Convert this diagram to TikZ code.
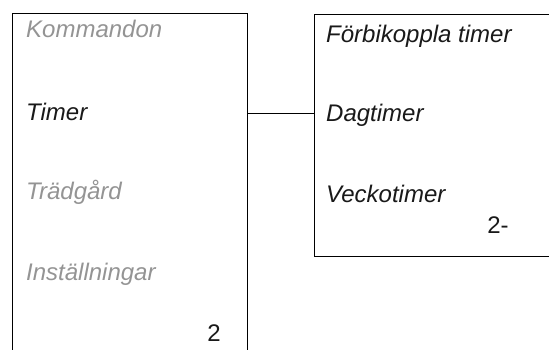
\documentclass[tikz,border=0pt]{standalone}
\usepackage{fontspec}
\setmainfont{Liberation Sans}
\begin{document}
\begin{tikzpicture}[x=1pt,y=-1pt,
  frame/.style={draw=black,line width=0.9pt,rectangle,inner sep=0pt},
  item/.style={anchor=base west,inner sep=0pt,font=\fontsize{24}{28}\selectfont\itshape},
  dim/.style={item,text=black!42},
  act/.style={item,text=black!90},
  num/.style={anchor=base,inner sep=0pt,font=\fontsize{24}{28}\selectfont,text=black!90},
  link/.style={draw=black,line width=0.9pt}]
\useasboundingbox (0,0) rectangle (549,350);
\clip (0,0) rectangle (549,350);
\node[frame,minimum width=235pt,minimum height=357pt] (leftbox) at (129.5,191.5) {};
\node[frame,minimum width=256pt,minimum height=242pt] (rightbox) at (442,135) {};
\node[dim] (kom) at (26,38) {Kommandon};
\node[act] (tim) at (26,121) {Timer};
\node[dim] (tra) at (26,200) {Trädgård};
\node[dim] (ins) at (26,280) {Inställningar};
\node[num] (n2) at (214,341) {2};
\node[act] (forb) at (326,43) {Förbikoppla timer};
\node[act] (dag) at (326,122) {Dagtimer};
\node[act] (vec) at (326,202) {Veckotimer};
\node[num] (n2b) at (498,233) {2-};
\coordinate (lv) at (0,113);
\draw[link] (leftbox.east |- lv) -- (rightbox.west |- lv);
\end{tikzpicture}
\end{document}
